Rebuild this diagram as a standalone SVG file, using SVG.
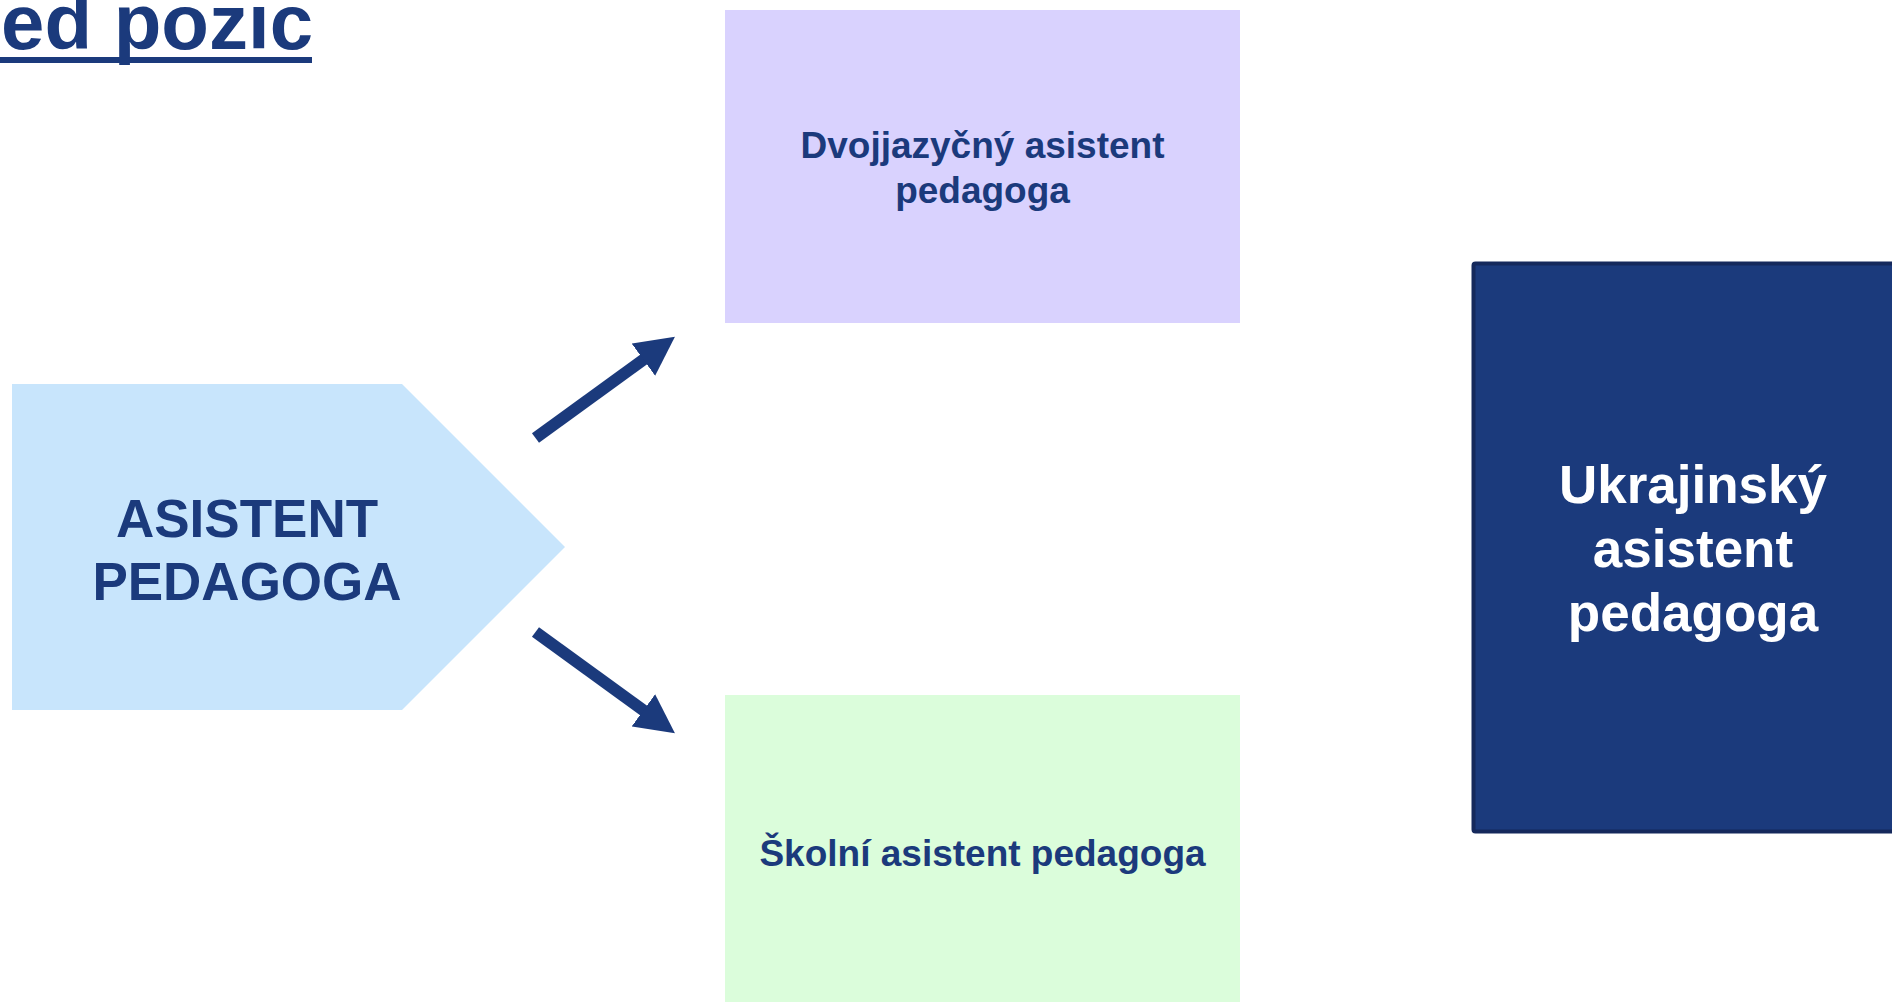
<svg xmlns="http://www.w3.org/2000/svg" width="1892" height="1002" viewBox="0 0 1892 1002">
<style>
text{font-family:"Liberation Sans",Arial,sans-serif;font-weight:bold;text-anchor:middle}
.dk{fill:#1B3A7C}
.wh{fill:#FFFFFF}
.conn{stroke:#1B3A7C;stroke-width:12;fill:none}
</style>
<defs>
<marker id="ah" markerUnits="userSpaceOnUse" markerWidth="40" markerHeight="40" viewBox="0 -20 40 40" refX="2" refY="0" orient="auto">
<path d="M0,-20 L39,0 L0,20 Z" fill="#1B3A7C"/>
</marker>
</defs>
<rect width="1892" height="1002" fill="#FFFFFF"/>
<g id="title">
<text x="1" y="49" style="text-anchor:start;font-size:78px" class="dk">ed pozic</text>
<rect x="0" y="57" width="312" height="6" fill="#1B3A7C"/>
</g>
<g id="node-asistent">
<polygon points="12,384 402,384 565,547 402,710 12,710" fill="#C8E5FC"/>
<text x="247" y="537" font-size="53" class="dk">ASISTENT</text>
<text x="247" y="600" font-size="53" class="dk">PEDAGOGA</text>
</g>
<g id="node-dvojjazycny">
<rect x="725" y="10" width="515" height="313" fill="#D9D2FE"/>
<text x="982.5" y="158" font-size="37" class="dk">Dvojjazyčný asistent</text>
<text x="982.5" y="203" font-size="37" class="dk">pedagoga</text>
</g>
<g id="node-skolni">
<rect x="725" y="695" width="515" height="310" fill="#DBFDDB"/>
<text x="982.5" y="866" font-size="37" class="dk">Školní asistent pedagoga</text>
</g>
<g id="node-ukrajinsky">
<rect x="1473.5" y="263.5" width="430" height="568" rx="2" fill="#1B3A7C" stroke="#15295C" stroke-width="4"/>
<text x="1693" y="503" font-size="53" class="wh">Ukrajinský</text>
<text x="1693" y="567" font-size="53" class="wh">asistent</text>
<text x="1693" y="631" font-size="53" class="wh">pedagoga</text>
</g>
<g id="connectors">
<line class="conn" x1="535.5" y1="438" x2="645" y2="358.5" marker-end="url(#ah)"/>
<line class="conn" x1="535.5" y1="632" x2="645" y2="711.5" marker-end="url(#ah)"/>
</g>
</svg>
